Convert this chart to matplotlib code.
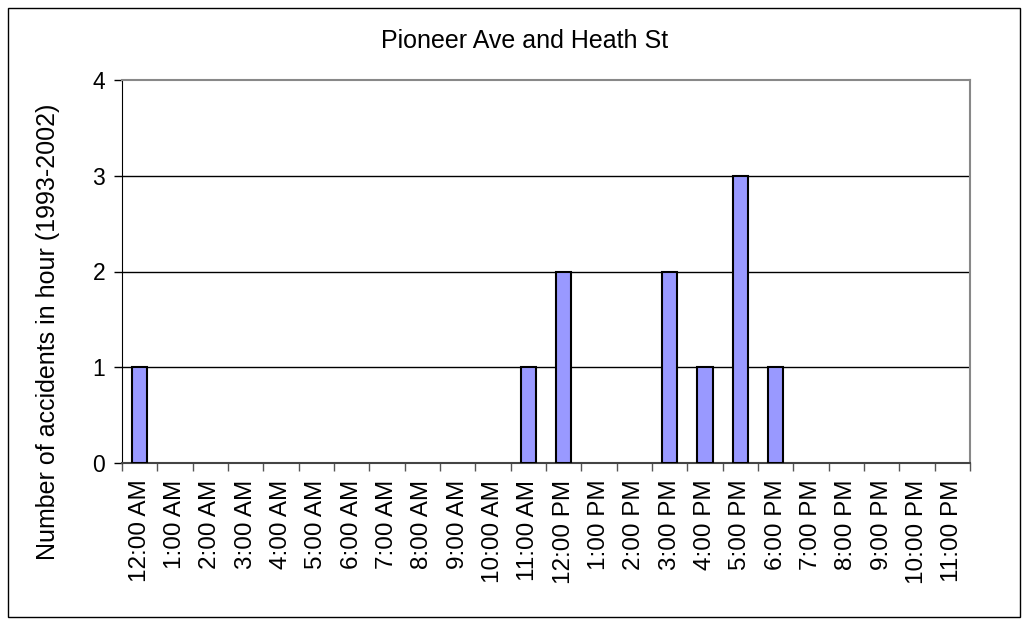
import matplotlib.pyplot as plt
import matplotlib.patches as mpatches
import numpy as np

plt.rcParams['font.family'] = ['Liberation Sans', 'DejaVu Sans']

hours = ['12:00 AM', '1:00 AM', '2:00 AM', '3:00 AM', '4:00 AM', '5:00 AM',
         '6:00 AM', '7:00 AM', '8:00 AM', '9:00 AM', '10:00 AM', '11:00 AM',
         '12:00 PM', '1:00 PM', '2:00 PM', '3:00 PM', '4:00 PM', '5:00 PM',
         '6:00 PM', '7:00 PM', '8:00 PM', '9:00 PM', '10:00 PM', '11:00 PM']
accidents = [1, 0, 0, 0, 0, 0, 0, 0, 0, 0, 0, 1,
             2, 0, 0, 2, 1, 3, 1, 0, 0, 0, 0, 0]

fig = plt.figure(figsize=(10.29, 6.25), dpi=100)
ax = fig.add_axes([122 / 1029, 1 - 463 / 625, 848 / 1029, 383 / 625])

x = np.arange(len(hours))
# zero bars have no visible outline in the original
lw = [1.5 if v > 0 else 0 for v in accidents]
ax.bar(x, accidents, width=0.43, color='#9999FF', edgecolor='black', linewidth=lw, zorder=3)

ax.set_xlim(-0.5, len(hours) - 0.5)
ax.set_ylim(0, 4)
ax.set_yticks([0, 1, 2, 3, 4])
ax.set_xticks(np.arange(-0.5, len(hours), 1), minor=False)
ax.set_xticklabels([])
ax.set_xticks(x, minor=True)
ax.set_xticklabels(hours, minor=True, rotation=90, fontsize=17.5)
ax.tick_params(axis='x', which='minor', length=0, pad=12)
ax.tick_params(axis='x', which='major', direction='out', length=6, width=1, color='#555555')
ax.tick_params(axis='y', direction='out', length=6, width=1, labelsize=16.5, pad=6)

for v in [1, 2, 3]:
    ax.axhline(v, color='black', linewidth=1, zorder=1)

for s in ['top', 'right']:
    ax.spines[s].set_color('#888888')
    ax.spines[s].set_linewidth(1.5)
ax.spines['left'].set_color('black')
ax.spines['bottom'].set_color('#444444')
ax.spines['bottom'].set_linewidth(1.5)

ax.set_ylabel('Number of accidents in hour (1993-2002)', fontsize=18)
ax.yaxis.set_label_coords((60 - 122) / 848, (463 - 332) / 383)
fig.text(525 / 1029, 1 - 41 / 625, 'Pioneer Ave and Heath St',
         ha='center', va='center', fontsize=18)

fig.patches.append(mpatches.Rectangle((8 / 1029, 8 / 625), 1012 / 1029, 609 / 625,
                                      transform=fig.transFigure, fill=False,
                                      edgecolor='black', linewidth=1))

fig.savefig('out.png', dpi=100)
